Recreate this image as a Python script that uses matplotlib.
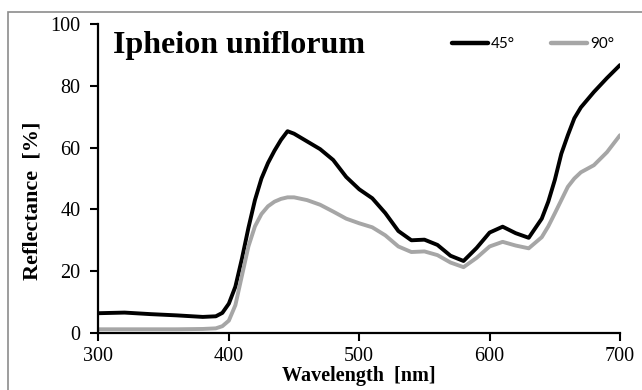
import matplotlib
matplotlib.use("Agg")
import matplotlib.pyplot as plt
from matplotlib.patches import Rectangle

# Reflectance spectra
wavelength = [300, 320, 340, 360, 380, 390, 395, 400, 405, 410, 415, 420, 425,
              430, 435, 440, 445, 450, 460, 470, 480, 490, 500, 510, 520, 530,
              540, 550, 560, 570, 580, 590, 600, 610, 620, 630, 640, 645, 650,
              655, 660, 665, 670, 680, 690, 700]
refl_45 = [6.4, 6.6, 6.1, 5.7, 5.2, 5.4, 6.5, 9.5, 15.0, 24.0, 34.0, 43.0, 50.0,
           55.0, 59.0, 62.5, 65.3, 64.5, 62.0, 59.5, 56.0, 50.5, 46.5, 43.6, 38.8,
           33.0, 30.0, 30.2, 28.5, 25.0, 23.3, 27.5, 32.5, 34.4, 32.3, 30.8, 37.0,
           42.5, 49.5, 58.0, 64.0, 69.5, 73.0, 78.0, 82.5, 86.7]
refl_90 = [1.2, 1.2, 1.2, 1.2, 1.3, 1.5, 2.2, 4.0, 9.0, 18.5, 28.0, 34.5, 38.5,
           41.0, 42.5, 43.4, 43.9, 43.9, 43.0, 41.5, 39.3, 37.0, 35.5, 34.2, 31.6,
           28.0, 26.2, 26.4, 25.2, 22.8, 21.3, 24.3, 28.0, 29.5, 28.3, 27.4, 31.0,
           34.5, 38.7, 43.0, 47.3, 50.0, 52.0, 54.3, 58.5, 64.0]
series_labels = ["45°", "90°"]
x_ticks = [300, 400, 500, 600, 700]
y_ticks = [0, 20, 40, 60, 80, 100]

serif = "Liberation Serif"

fig = plt.figure(figsize=(6.42, 3.90), dpi=100, facecolor="white")
ax = fig.add_axes([0.1534, 0.1462, 0.8123, 0.7923])

# outer frame (only left/top edges visible in the reference)
fig.add_artist(Rectangle((8 / 642, -0.2), 1.2, (390 - 12) / 390 + 0.2,
                         transform=fig.transFigure, fill=False,
                         edgecolor="#8c8c8c", lw=1.2))

ax.plot(wavelength, refl_45, color="black", lw=2.8, label=series_labels[0],
        solid_capstyle="round")
ax.plot(wavelength, refl_90, color="#a6a6a6", lw=2.8, label=series_labels[1],
        solid_capstyle="round")

ax.set_xlim(300, 700)
ax.set_ylim(0, 100)
ax.set_xticks(x_ticks)
ax.set_yticks(y_ticks)

for side in ["top", "right"]:
    ax.spines[side].set_visible(False)
for side in ["left", "bottom"]:
    ax.spines[side].set_linewidth(1.6)
    ax.spines[side].set_color("black")

ax.tick_params(axis="both", direction="out", length=6, width=1.5,
               labelsize=14.5, colors="black")
ax.tick_params(axis="x", pad=4)
ax.tick_params(axis="y", pad=7)
for lab in ax.get_xticklabels() + ax.get_yticklabels():
    lab.set_fontfamily(serif)

ax.set_xlabel("Wavelength  [nm]", fontfamily=serif, fontsize=14.5,
              fontweight="bold", va="baseline")
ax.xaxis.set_label_coords(0.5, -0.155)
ax.set_ylabel("Reflectance  [%]", fontfamily=serif, fontsize=16,
              fontweight="bold", va="center")
ax.yaxis.set_label_coords(-0.1256, 0.427)

ax.text(0.028, 0.906, "Ipheion uniflorum", transform=ax.transAxes,
        fontfamily=serif, fontsize=23, fontweight="bold", va="baseline",
        ha="left")

leg = ax.legend(loc="center left", bbox_to_anchor=(0.677, 0.935), ncol=2,
                frameon=False, handlelength=2.36, handletextpad=0.2,
                columnspacing=2.4, borderpad=0, borderaxespad=0,
                prop={"family": "Lato", "size": 11})
for line in leg.get_lines():
    line.set_linewidth(3.2)

fig.savefig("out.png", dpi=100, facecolor="white")
